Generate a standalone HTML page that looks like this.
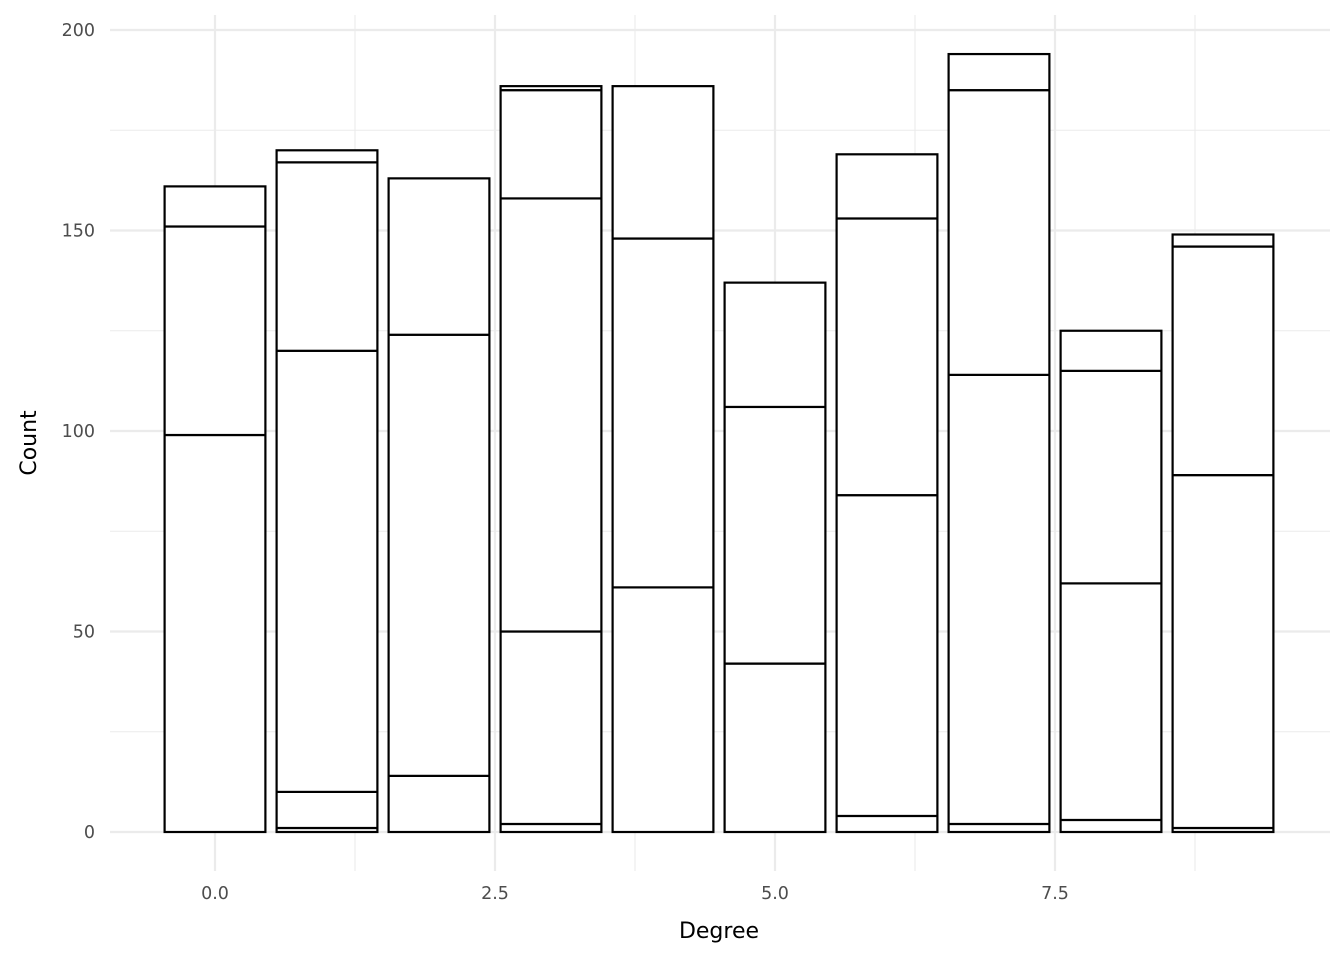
<!DOCTYPE html>
<html><head><meta charset="utf-8"><style>
html,body{margin:0;padding:0;background:#fff;}
svg{display:block;font-family:"DejaVu Sans","Liberation Sans",sans-serif;}
</style></head><body>
<svg id="chart" width="1344" height="960">
<g id="grid"></g>
<g id="bars"></g>
<g id="axes"></g>
<text x="719" y="938" text-anchor="middle" font-size="22" fill="#000">Degree</text>
<text transform="translate(36,443) rotate(-90)" text-anchor="middle" font-size="22" fill="#000">Count</text>
</svg>
<script>
const categories = [0,1,2,3,4,5,6,7,8,9];
const segments = [
  [99,52,10],
  [1,9,110,47,3],
  [14,110,39],
  [2,48,108,27,1],
  [61,87,38],
  [42,64,31],
  [4,80,69,16],
  [2,112,71,9],
  [3,59,53,10],
  [1,88,57,3]
];
const yTicks = [0,50,100,150,200];
const yMinor = [25,75,125,175];
const xTicks = [0,2.5,5,7.5];
const xTickLabels = ["0.0","2.5","5.0","7.5"];
const xMinor = [1.25,3.75,6.25,8.75];

const NS="http://www.w3.org/2000/svg";
const xs = v => 215 + v*112;
const ys = v => 832 - v*4.01;
const X0=110, X1=1330, Y0=15, Y1=871;
function mk(t,a,p){const e=document.createElementNS(NS,t);for(const k in a)e.setAttribute(k,a[k]);p.appendChild(e);return e;}
const grid=document.getElementById('grid'), bars=document.getElementById('bars'), axes=document.getElementById('axes');
yMinor.forEach(v=>{const l=mk('line',{x1:X0,x2:X1,y1:ys(v),y2:ys(v),stroke:'#ebebeb','stroke-width':1.1},grid);

});
xMinor.forEach(v=>{const l=mk('line',{x1:xs(v),x2:xs(v),y1:Y0,y2:Y1,stroke:'#ebebeb','stroke-width':1.1},grid);

});
yTicks.forEach(v=>{const l=mk('line',{x1:X0,x2:X1,y1:ys(v),y2:ys(v),stroke:'#ebebeb','stroke-width':2.2},grid);


const t=mk('text',{x:95,y:ys(v)+6,'text-anchor':'end','font-size':17.5,fill:'#4d4d4d'},axes);t.textContent=v;

});
xTicks.forEach((v,i)=>{const l=mk('line',{x1:xs(v),x2:xs(v),y1:Y0,y2:Y1,stroke:'#ebebeb','stroke-width':2.2},grid);


const t=mk('text',{x:xs(v),y:899,'text-anchor':'middle','font-size':17.5,fill:'#4d4d4d'},axes);t.textContent=xTickLabels[i];

});
categories.forEach((c,i)=>{let cum=0;
segments[i].forEach(s=>{const r=mk('rect',{x:xs(c-0.45),width:xs(c+0.45)-xs(c-0.45),y:ys(cum+s),height:ys(cum)-ys(cum+s),fill:'#fff',stroke:'#000','stroke-width':2.2},bars);


cum+=s;});});
</script>
</body></html>
